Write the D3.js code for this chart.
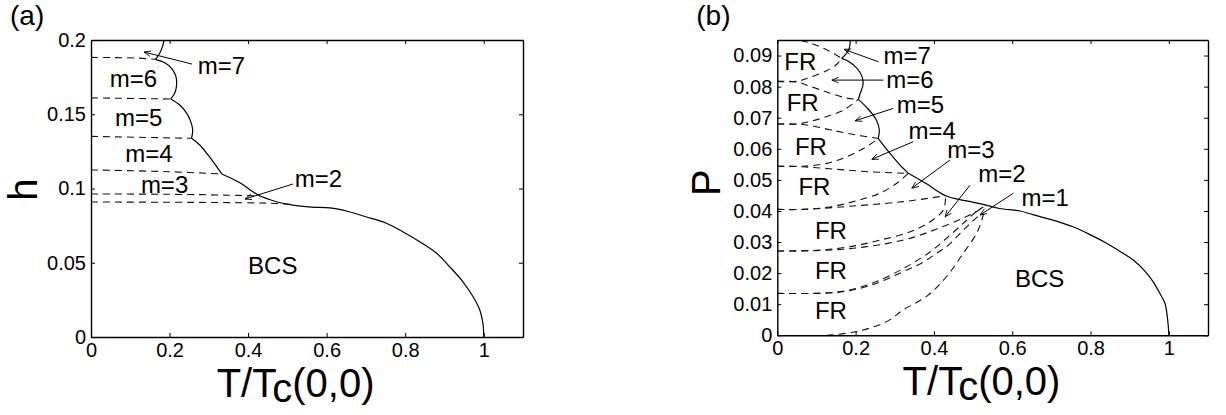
<!DOCTYPE html>
<html>
<head>
<meta charset="utf-8">
<script src="https://cdn.jsdelivr.net/npm/d3@7"></script>
<style>
body { margin:0; background:#fff; }
svg text { font-family: "Liberation Sans", Arial, Helvetica, sans-serif; fill:#000; }
</style>
</head>
<body>
<svg id="drawing_region"></svg>
<script>
// ---- data ----
const tTicks = [0, 0.2, 0.4, 0.6, 0.8, 1];
const tTickLabels = ["0", "0.2", "0.4", "0.6", "0.8", "1"];
const hTicks = [0, 0.05, 0.1, 0.15, 0.2];
const hTickLabels = ["0", "0.05", "0.1", "0.15", "0.2"];
const pTicks = [0, 0.01, 0.02, 0.03, 0.04, 0.05, 0.06, 0.07, 0.08, 0.09];
const pTickLabels = ["0", "0.01", "0.02", "0.03", "0.04", "0.05", "0.06", "0.07", "0.08", "0.09"];

// (a) solid phase boundary, split at the cusps
const solidA = [
    [[0.186,0.2],[0.182,0.1955],[0.174,0.1906],[0.164,0.187]],
    [[0.164,0.187],[0.188,0.1847],[0.205,0.1809],[0.216,0.1758],[0.218,0.1697],[0.213,0.1641],[0.203,0.1603]],
    [[0.203,0.1603],[0.226,0.1562],[0.244,0.1506],[0.254,0.145],[0.259,0.1394],[0.256,0.1338]],
    [[0.256,0.1338],[0.277,0.1293],[0.298,0.1226],[0.320,0.1147],[0.333,0.1098]],
    [[0.333,0.1098],[0.379,0.1039],[0.426,0.0956],[0.472,0.0911],[0.514,0.0888],[0.562,0.0875],[0.608,0.0869],
     [0.655,0.0845],[0.702,0.0808],[0.752,0.0766],[0.794,0.0709],[0.837,0.0642],[0.880,0.0564],[0.913,0.0474],
     [0.947,0.0372],[0.973,0.0271],[0.990,0.0182],[0.998,0.0092],[1,0]]
];
// (a) dashed lines
const dashedA = [
    [[0,0.1883],[0.12,0.1878],[0.164,0.187]],
    [[0,0.1610],[0.203,0.1603]],
    [[0,0.1351],[0.256,0.1338]],
    [[0,0.1125],[0.2,0.1113],[0.333,0.1098]],
    [[0,0.0963],[0.2,0.0961],[0.35,0.0955],[0.43,0.0950]],
    [[0,0.0909],[0.3,0.0906],[0.45,0.0901],[0.51,0.0893]]
];
const labelsA = [
    {text:"m=7", x:0.272, y:0.1771}, {text:"m=6", x:0.048, y:0.1684}, {text:"m=5", x:0.061, y:0.1421},
    {text:"m=4", x:0.087, y:0.1178}, {text:"m=3", x:0.127, y:0.097}, {text:"m=2", x:0.519, y:0.101},
    {text:"BCS", x:0.40, y:0.0424}
];
const arrowsA = [
    {from:[0.257,0.1838], to:[0.135,0.1919]},
    {from:[0.514,0.103], to:[0.392,0.0929]}
];

// (b) solid phase boundary
const solidB = [
    [[0.1865,0.0956],[0.1824,0.0918],[0.1644,0.0891]],
    [[0.1644,0.0891],[0.1824,0.0881],[0.2036,0.0859],[0.2163,0.0833],[0.219,0.0806],[0.212,0.0779],[0.207,0.0759]],
    [[0.207,0.0759],[0.232,0.0728],[0.252,0.0695],[0.2605,0.0662],[0.258,0.0633]],
    [[0.258,0.0633],[0.288,0.0585],[0.313,0.0548],[0.3346,0.0521]],
    [[0.3346,0.0521],[0.38,0.0488],[0.43,0.0449],[0.48,0.0433],[0.526,0.0421],[0.568,0.0408],[0.62,0.0400],
     [0.653,0.0388],[0.70,0.0372],[0.755,0.0349],[0.80,0.0323],[0.841,0.0296],[0.88,0.0266],[0.909,0.0242],
     [0.94,0.0205],[0.96,0.0172],[0.98,0.0128],[0.990,0.0103],[0.997,0.005],[1,0]]
];
// (b) dashed curves
const dashedB = [
    [[0.03,0.0958],[0.084,0.0940],[0.127,0.0918],[0.1644,0.0891]],
    [[0,0.0817],[0.05,0.0817],[0.084,0.0830],[0.127,0.0852],[0.152,0.0872],[0.1644,0.0891]],
    [[0,0.0817],[0.05,0.0815],[0.084,0.0801],[0.135,0.0779],[0.178,0.0763],[0.207,0.0759]],
    [[0,0.0680],[0.05,0.0680],[0.084,0.0688],[0.127,0.0704],[0.17,0.0725],[0.207,0.0759]],
    [[0,0.0680],[0.05,0.0679],[0.084,0.0675],[0.135,0.0661],[0.195,0.0646],[0.258,0.0633]],
    [[0,0.0544],[0.066,0.0544],[0.126,0.0553],[0.177,0.0574],[0.22,0.0601],[0.258,0.0633]],
    [[0,0.0544],[0.066,0.0542],[0.152,0.0534],[0.237,0.0526],[0.3346,0.0521]],
    [[0,0.0405],[0.066,0.0405],[0.135,0.0413],[0.203,0.0433],[0.262,0.0457],[0.305,0.0489],[0.3346,0.0521]],
    [[0,0.0405],[0.066,0.0405],[0.194,0.0416],[0.322,0.0430],[0.43,0.0449]],
    [[0,0.0271],[0.109,0.0274],[0.194,0.0287],[0.262,0.0306],[0.339,0.0333],[0.39,0.0365],[0.424,0.0403],[0.43,0.0449]],
    [[0,0.0271],[0.109,0.0273],[0.194,0.0280],[0.279,0.0295],[0.347,0.0315],[0.407,0.0342],[0.467,0.0373],[0.509,0.0398],[0.526,0.0413]],
    [[0,0.0135],[0.152,0.0139],[0.237,0.0165],[0.322,0.0215],[0.39,0.0268],[0.441,0.0322],[0.48,0.0366],[0.51,0.0400],[0.526,0.0413]],
    [[0,0.0135],[0.152,0.0138],[0.237,0.0160],[0.322,0.0205],[0.368,0.0232],[0.407,0.0264],[0.437,0.0290],[0.471,0.0333],[0.497,0.0365],[0.522,0.0392]],
    [[0.126,0],[0.203,0.0012],[0.279,0.0044],[0.322,0.0082],[0.382,0.0126],[0.433,0.0190],[0.475,0.0264],[0.509,0.0328],[0.524,0.0378],[0.53,0.0408]]
];
const labelsB = [
    {text:"FR", x:0.018, y:0.0853}, {text:"FR", x:0.024, y:0.0722}, {text:"FR", x:0.045, y:0.058},
    {text:"FR", x:0.054, y:0.0451}, {text:"FR", x:0.096, y:0.031}, {text:"FR", x:0.096, y:0.018},
    {text:"FR", x:0.096, y:0.0051},
    {text:"m=7", x:0.271, y:0.0872}, {text:"m=6", x:0.278, y:0.0794}, {text:"m=5", x:0.305, y:0.0714},
    {text:"m=4", x:0.335, y:0.0633}, {text:"m=3", x:0.434, y:0.0569}, {text:"m=2", x:0.513, y:0.0494},
    {text:"m=1", x:0.624, y:0.0416},
    {text:"BCS", x:0.607, y:0.0154}
];
const arrowsB = [
    {from:[0.258,0.088], to:[0.1704,0.092]},
    {from:[0.2708,0.0821], to:[0.139,0.0821]},
    {from:[0.2963,0.073], to:[0.1985,0.069]},
    {from:[0.3474,0.0623], to:[0.2411,0.0566]},
    {from:[0.4411,0.0564], to:[0.3433,0.0473]},
    {from:[0.4922,0.0483], to:[0.4284,0.0381]},
    {from:[0.6028,0.0457], to:[0.5178,0.0387]}
];

class PhaseChart {
    constructor( config ) {
        this.config = config;
        this.init();
        this.render();
    }

    init() {
        let self = this;
        const c = self.config;
        self.chart = c.svg.append('g')
            .attr('transform', `translate(${c.left}, ${c.top})`);

        self.xscale = d3.scaleLinear().domain([0, 1.1]).range([0, c.width]);
        self.yscale = d3.scaleLinear().domain(c.ydomain).range([c.height, 0]);

        self.chart.append('clipPath').attr('id', 'clip_' + c.id)
            .append('rect').attr('width', c.width).attr('height', c.height);
    }

    render() {
        let self = this;
        const c = self.config;
        const xs = self.xscale, ys = self.yscale;

        const line = d3.line()
            .x(d => xs(d[0]))
            .y(d => ys(d[1]))
            .curve(d3.curveCatmullRom.alpha(0.5));

        const plot = self.chart.append('g').attr('clip-path', `url(#clip_${c.id})`);

        plot.selectAll('.dashed')
            .data(c.dashed)
            .enter()
            .append('path')
            .attr('d', line)
            .attr('fill', 'none')
            .attr('stroke', '#111')
            .attr('stroke-width', 1.1)
            .attr('stroke-dasharray', '7,5');

        plot.selectAll('.solid')
            .data(c.solid)
            .enter()
            .append('path')
            .attr('d', line)
            .attr('fill', 'none')
            .attr('stroke', '#000')
            .attr('stroke-width', 1.2);

        self.chart.selectAll('.arrow')
            .data(c.arrows)
            .enter()
            .append('line')
            .attr('x1', d => xs(d.from[0]))
            .attr('y1', d => ys(d.from[1]))
            .attr('x2', d => xs(d.to[0]))
            .attr('y2', d => ys(d.to[1]))
            .attr('stroke', '#000')
            .attr('stroke-width', 1)
            .attr('marker-end', 'url(#arrowhead)');

        self.chart.selectAll('.lab')
            .data(c.labels)
            .enter()
            .append('text')
            .attr('x', d => xs(d.x))
            .attr('y', d => ys(d.y))
            .style('font-size', '24px')
            .text(d => d.text);

        // axes, MATLAB style: box with inward ticks
        const fmtX = d => tTickLabels[tTicks.indexOf(d)];
        const fmtY = d => c.yticklabels[c.yticks.indexOf(d)];

        const xaxis = d3.axisBottom(xs).tickValues(tTicks).tickSizeInner(-4).tickSizeOuter(0)
            .tickPadding(6).tickFormat(fmtX);
        const yaxis = d3.axisLeft(ys).tickValues(c.yticks).tickSizeInner(-4).tickSizeOuter(0)
            .tickPadding(5).tickFormat(fmtY);
        const xtop = d3.axisTop(xs).tickValues(tTicks).tickSizeInner(-4).tickSizeOuter(0).tickFormat('');
        const yright = d3.axisRight(ys).tickValues(c.yticks).tickSizeInner(-4).tickSizeOuter(0).tickFormat('');

        const groups = [
            self.chart.append('g').attr('transform', `translate(0, ${c.height})`).call(xaxis),
            self.chart.append('g').call(yaxis),
            self.chart.append('g').call(xtop),
            self.chart.append('g').attr('transform', `translate(${c.width}, 0)`).call(yright)
        ];
        groups.forEach(g => {
            g.select('.domain').attr('stroke', '#000').attr('stroke-width', 1.4);
            g.selectAll('.tick line').attr('stroke', '#000').attr('stroke-width', 1);
            g.selectAll('.tick text')
                .style('font-size', '20px')
                .style('font-family', '"Liberation Sans", Arial, sans-serif')
                .attr('fill', '#000');
        });

        // x label T/Tc(0,0)
        const xl = c.svg.append('text')
            .attr('x', c.left + xs(0.32))
            .attr('y', c.top + c.height + 60)
            .style('font-size', '40px');
        xl.append('tspan').text('T/T');
        xl.append('tspan').attr('dy', 5).text('c');
        xl.append('tspan').attr('dy', -5).text('(0,0)');

        // y label
        c.svg.append('text')
            .attr('transform', `translate(${c.left - c.ylabelOffset}, ${c.top + c.height / 2 + c.ylabelShift}) rotate(-90)`)
            .attr('text-anchor', 'middle')
            .style('font-size', '40px')
            .text(c.ylabel);

        // panel tag
        c.svg.append('text')
            .attr('x', c.left - 81)
            .attr('y', 25)
            .style('font-size', '28px')
            .text(c.tag);
    }
}

const svg = d3.select('#drawing_region')
    .attr('width', 1226)
    .attr('height', 415);

svg.append('defs').append('marker')
    .attr('id', 'arrowhead')
    .attr('viewBox', '0 0 10 10')
    .attr('refX', 10).attr('refY', 5)
    .attr('markerWidth', 7).attr('markerHeight', 7)
    .attr('markerUnits', 'userSpaceOnUse')
    .attr('orient', 'auto')
    .append('path')
    .attr('d', 'M0,1 L10,5 L0,9')
    .attr('fill', 'none')
    .attr('stroke', '#000')
    .attr('stroke-width', 1.2);

new PhaseChart({
    svg: svg, id: 'a', tag: '(a)',
    left: 91, top: 40, width: 432, height: 297,
    ydomain: [0, 0.2], yticks: hTicks, yticklabels: hTickLabels,
    ylabel: 'h', ylabelOffset: 54, ylabelShift: 1,
    solid: solidA, dashed: dashedA, labels: labelsA, arrows: arrowsA
});

new PhaseChart({
    svg: svg, id: 'b', tag: '(b)',
    left: 777.3, top: 40, width: 430.7, height: 295.3,
    ydomain: [0, 0.095], yticks: pTicks, yticklabels: pTickLabels,
    ylabel: 'P', ylabelOffset: 57, ylabelShift: -5,
    solid: solidB, dashed: dashedB, labels: labelsB, arrows: arrowsB
});
</script>
</body>
</html>
